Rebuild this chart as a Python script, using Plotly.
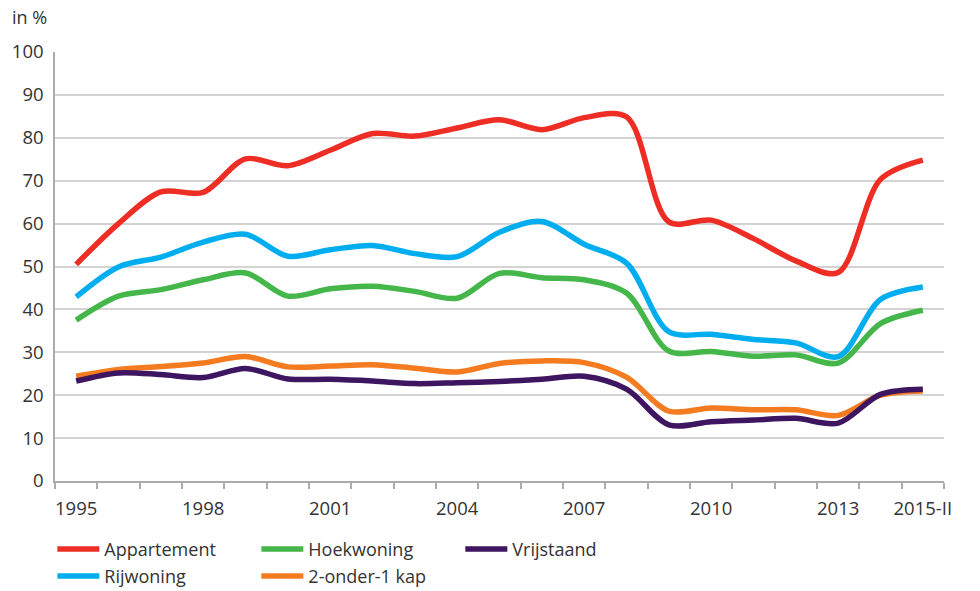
import plotly.graph_objects as go

years = ["1995", "1996", "1997", "1998", "1999", "2000", "2001", "2002", "2003", "2004",
         "2005", "2006", "2007", "2008", "2009", "2010", "2011", "2012", "2013", "2014", "2015-II"]
tick_years = ["1995", "1998", "2001", "2004", "2007", "2010", "2013", "2015-II"]

appartement = [50.5, 60.0, 67.4, 67.3, 75.1, 73.5, 77.1, 81.0, 80.4, 82.3, 84.2, 81.9, 84.7, 84.9,
               60.4, 60.8, 56.5, 51.3, 48.6, 70.3, 74.8]
rijwoning = [42.9, 49.9, 52.2, 55.7, 57.5, 52.4, 53.9, 54.9, 53.0, 52.3, 58.0, 60.5, 55.2, 50.8,
             34.8, 34.2, 33.0, 32.2, 29.0, 42.3, 45.2]
hoekwoning = [37.5, 43.1, 44.6, 46.9, 48.5, 43.1, 44.8, 45.4, 44.2, 42.6, 48.4, 47.4, 46.9, 43.8,
              30.3, 30.2, 29.1, 29.4, 27.5, 36.7, 39.8]
twee_onder_een_kap = [24.4, 26.0, 26.7, 27.5, 29.0, 26.6, 26.8, 27.1, 26.3, 25.4, 27.4, 28.0, 27.6, 24.2,
                      16.3, 17.0, 16.6, 16.6, 15.3, 20.0, 21.0]
vrijstaand = [23.3, 25.2, 24.8, 24.1, 26.2, 23.8, 23.7, 23.3, 22.7, 22.9, 23.2, 23.7, 24.4, 21.4,
              13.1, 13.8, 14.2, 14.6, 13.5, 20.2, 21.4]

x = list(range(len(years)))
tickvals = [years.index(t) for t in tick_years]

FONT = "Open Sans"
TXT = "#333333"

series = [
    ("Appartement", appartement, "#EE2D24", "legend"),
    ("Rijwoning", rijwoning, "#00AEEF", "legend2"),
    ("Hoekwoning", hoekwoning, "#45B649", "legend"),
    ("2-onder-1 kap", twee_onder_een_kap, "#F47B20", "legend2"),
    ("Vrijstaand", vrijstaand, "#3D1560", "legend"),
]

fig = go.Figure()
for name, vals, color, leg in series:
    fig.add_trace(go.Scatter(
        x=x, y=vals, name=name, mode="lines",
        line=dict(color=color, width=5.5, shape="spline", smoothing=0.9),
        legend=leg, hoverinfo="skip",
    ))

legend_common = dict(
    orientation="h", x=-0.003, xanchor="left", yanchor="middle",
    entrywidth=147, entrywidthmode="pixels", itemwidth=42,
    font=dict(size=18, color=TXT), bgcolor="rgba(0,0,0,0)",
    itemclick=False, itemdoubleclick=False,
)

# plot area: x 55..944, y 52..481 (px)
fig.update_layout(
    template="none",
    width=980, height=591,
    margin=dict(l=55, r=36, t=52, b=110, autoexpand=False),
    paper_bgcolor="white", plot_bgcolor="white",
    font=dict(family=FONT, size=18, color=TXT),
    xaxis=dict(
        range=[-0.5, 20.5], automargin=False,
        tickmode="array", tickvals=tickvals, ticktext=tick_years,
        ticks="", ticklabelstandoff=10,
        showgrid=False, zeroline=False,
        showline=True, linecolor="#ABABAB", linewidth=1.5,
        minor=dict(tickmode="array", tickvals=[i - 0.5 for i in range(len(years) + 1)],
                   ticks="outside", ticklen=6, tickcolor="#ABABAB", tickwidth=1.5,
                   showgrid=False),
        tickfont=dict(size=18.5, color=TXT),
    ),
    yaxis=dict(
        range=[0, 100], tickmode="linear", tick0=0, dtick=10, automargin=False,
        showgrid=True, gridcolor="#D3D3D3", gridwidth=1.5,
        zeroline=False, showline=True, linecolor="#ABABAB", linewidth=1.5,
        ticks="", ticklabelstandoff=6,
        tickfont=dict(size=18.5, color=TXT),
    ),
    legend=dict(legend_common, y=-0.159),
    legend2=dict(legend_common, y=-0.222),
    annotations=[dict(
        text="in %", xref="paper", yref="paper", x=-0.0506, y=1.081,
        xanchor="left", yanchor="middle", showarrow=False,
        font=dict(size=18, color=TXT),
    )],
)

fig.write_html("out.html", config={"displayModeBar": False},
               post_script="document.body.style.margin='0px';")
